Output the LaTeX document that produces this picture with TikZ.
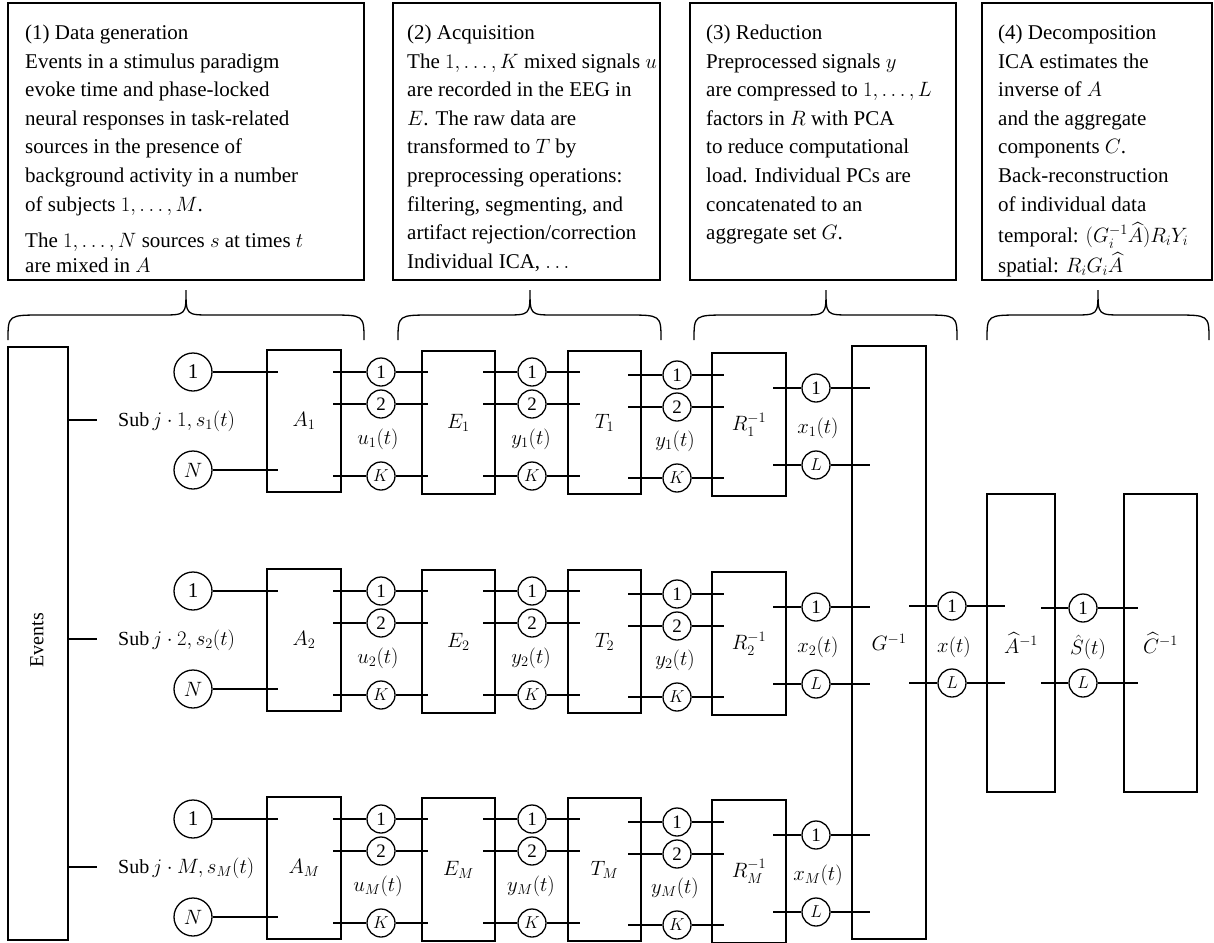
\documentclass[tikz,border=0pt]{standalone}
\usepackage{amsmath}
\usepackage{fontspec}
\setmainfont{Liberation Serif}
\newcommand{\mybrace}[3]{%
  \draw[wire] (#1,340) .. controls (#1,315) .. (#1+35,315) -- (#2-25,315)
     .. controls (#2,315) .. (#2,290) .. controls (#2,315) .. (#2+25,315)
     -- (#3-35,315) .. controls (#3,315) .. (#3,340);}
\newcommand{\subjrow}[3]{%
  % #1 = top y of row, #2 = index, #3 = name prefix
  \coordinate (#3sub) at (97,#1+70);
  \draw[wire] (ev.east |- #3sub) -- (#3sub);
  \node[lbl, anchor=west] (#3lab) at (118,#1+71) {Sub\,$j\cdot #2, s_{#2}(t)$};
  \node[src] (#3s1) at (193,#1+22) {1};
  \node[src] (#3sN) at (193,#1+120) {$N$};
  \node[blk, minimum width=74pt, minimum height=142pt] (#3A) at (304,#1+71) {$A_{#2}$};
  \coordinate (#3Ai1) at (278,#1+22);
  \coordinate (#3AiN) at (278,#1+120);
  \draw[wire] (#3s1) -- (#3Ai1);
  \draw[wire] (#3sN) -- (#3AiN);
  \node[blk, minimum width=73pt, minimum height=143pt] (#3E) at (458.5,#1+72.5) {$E_{#2}$};
  \node[blk, minimum width=73pt, minimum height=143pt] (#3T) at (604.5,#1+72.5) {$T_{#2}$};
  \node[blk, minimum width=74pt, minimum height=143pt] (#3R) at (749,#1+74.5) {$R_{#2}^{-1}$};
  \foreach \k/\dy/\t in {1/22/1,2/54/2,K/126/$K$}{
    \node[sig] (#3u\k) at (381,#1+\dy) {\t};
    \coordinate (#3Ao\k) at (333,#1+\dy);
    \coordinate (#3Ei\k) at (428,#1+\dy);
    \draw[wire] (#3Ao\k) -- (#3u\k) -- (#3Ei\k);
    \node[sig] (#3y\k) at (532,#1+\dy) {\t};
    \coordinate (#3Eo\k) at (483,#1+\dy);
    \coordinate (#3Ti\k) at (580,#1+\dy);
    \draw[wire] (#3Eo\k) -- (#3y\k) -- (#3Ti\k);
  }
  \foreach \k/\dy/\t in {1/25/1,2/57/2,K/128/$K$}{
    \node[sig] (#3z\k) at (677,#1+\dy) {\t};
    \coordinate (#3To\k) at (628,#1+\dy);
    \coordinate (#3Ri\k) at (724,#1+\dy);
    \draw[wire] (#3To\k) -- (#3z\k) -- (#3Ri\k);
  }
  \foreach \k/\dy/\t in {1/38/1,L/115/$L$}{
    \node[sig] (#3x\k) at (816,#1+\dy) {\t};
    \coordinate (#3Ro\k) at (773,#1+\dy);
    \coordinate (#3Gi\k) at (870,#1+\dy);
    \draw[wire] (#3Ro\k) -- (#3x\k) -- (#3Gi\k);
  }
  \node[lbl] (#3ul) at (378,#1+89) {$u_{#2}(t)$};
  \node[lbl] (#3yl) at (531,#1+89) {$y_{#2}(t)$};
  \node[lbl] (#3zl) at (675,#1+91) {$y_{#2}(t)$};
  \node[lbl] (#3xl) at (818,#1+78) {$x_{#2}(t)$};
}
\begin{document}
\begin{tikzpicture}[x=1pt,y=-1pt,
  wire/.style={line width=1.3pt},
  txtbox/.style={draw, line width=1.3pt, inner sep=0pt},
  boxtext/.style={anchor=base west, inner sep=0pt, font=\fontsize{21}{28.5}\selectfont},
  blk/.style={draw, line width=1.3pt, inner sep=0pt, font=\fontsize{20}{24}\selectfont},
  src/.style={draw, circle, line width=1.3pt, minimum size=38pt, inner sep=0pt, font=\fontsize{21}{24}\selectfont},
  sig/.style={draw, circle, line width=1.3pt, minimum size=28pt, inner sep=0pt, font=\fontsize{19}{22}\selectfont},
  lbl/.style={inner sep=0pt, font=\fontsize{20}{24}\selectfont},
]
\useasboundingbox (0,0) rectangle (1214,942);

% ---- top text boxes ----
\node[txtbox, minimum width=356pt, minimum height=277pt] (b1) at (186,141.5) {};
\node[txtbox, minimum width=267pt, minimum height=277pt] (b2) at (526.5,141.5) {};
\node[txtbox, minimum width=266pt, minimum height=277pt] (b3) at (823,141.5) {};
\node[txtbox, minimum width=230pt, minimum height=277pt] (b4) at (1097,141.5) {};

\node[boxtext] (t1) at (25,40) {\begin{tabular}[t]{@{}l@{}}
(1) Data generation\\
Events in a stimulus paradigm\\
evoke time and phase-locked\\
neural responses in task-related\\
sources in the presence of\\
background activity in a number\\
of subjects $1,\ldots,M$.\\[8pt]
The $1,\ldots,N$ sources $s$ at times $t$\\[-4pt]
are mixed in $A$
\end{tabular}};

\node[boxtext] (t2) at (407,40) {\begin{tabular}[t]{@{}l@{}}
(2) Acquisition\\
The $1,\ldots,K$ mixed signals $u$\\
are recorded in the EEG in\\
$E$. The raw data are\\
transformed to $T$ by\\
preprocessing operations:\\
filtering, segmenting, and\\
artifact rejection/correction\\
Individual ICA, $\ldots$
\end{tabular}};

\node[boxtext] (t3) at (706,40) {\begin{tabular}[t]{@{}l@{}}
(3) Reduction\\
Preprocessed signals $y$\\
are compressed to $1,\ldots,L$\\
factors in $R$ with PCA\\
to reduce computational\\
load. Individual PCs are\\
concatenated to an\\
aggregate set $G$.
\end{tabular}};

\node[boxtext] (t4) at (998,40) {\begin{tabular}[t]{@{}l@{}}
(4) Decomposition\\
ICA estimates the\\
inverse of $A$\\
and the aggregate\\
components $C$.\\
Back-reconstruction\\
of individual data\\[3pt]
temporal: $(G_i^{-1}\widehat{A})R_iY_i$\\[1pt]
spatial: $R_iG_i\widehat{A}$
\end{tabular}};

% ---- braces ----
\mybrace{8}{186}{364}
\mybrace{398}{530}{661}
\mybrace{694}{826}{957}
\mybrace{987}{1098}{1209}

% ---- events ----
\node[blk, minimum width=60pt, minimum height=593pt] (ev) at (38,643.5) {};
\node[lbl, rotate=90] (evl) at (37,640) {Events};

\subjrow{350}{1}{ra}
\subjrow{569}{2}{rb}
\subjrow{797}{M}{rc}

% ---- aggregate part ----
\node[blk, minimum width=74pt, minimum height=593pt] (G) at (889,642.5) {$G^{-1}$};
\node[blk, minimum width=68pt, minimum height=298pt] (Ah) at (1021,643) {$\widehat{A}^{-1}$};
\node[blk, minimum width=73pt, minimum height=298pt] (Ch) at (1160.5,643) {$\widehat{C}^{-1}$};

\foreach \k/\yy/\t in {1/606/1,L/683/$L$}{
  \node[sig] (xa\k) at (952,\yy) {\t};
  \coordinate (Go\k) at (909,\yy);
  \coordinate (Ai\k) at (1005,\yy);
  \draw[wire] (Go\k) -- (xa\k) -- (Ai\k);
}
\foreach \k/\yy/\t in {1/608/1,L/683/$L$}{
  \node[sig] (sh\k) at (1083,\yy) {\t};
  \coordinate (Ao\k) at (1041,\yy);
  \coordinate (Ci\k) at (1138,\yy);
  \draw[wire] (Ao\k) -- (sh\k) -- (Ci\k);
}
\node[lbl] (xal) at (954,647) {$x(t)$};
\node[lbl] (shl) at (1088,647) {$\hat{S}(t)$};
\end{tikzpicture}
\end{document}
